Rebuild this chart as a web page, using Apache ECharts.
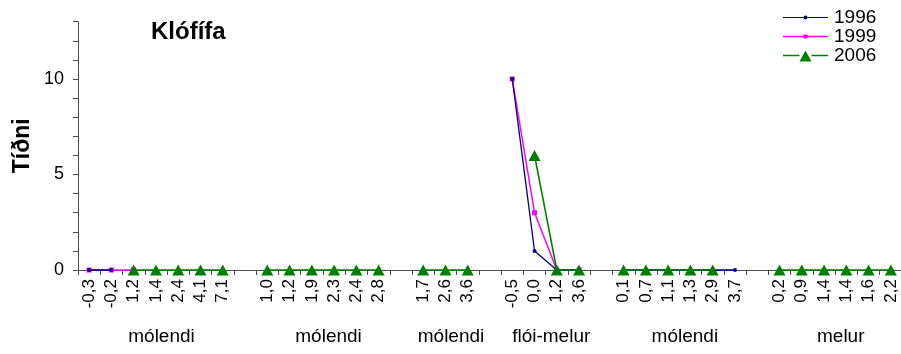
<!DOCTYPE html>
<html>
<head>
<meta charset="utf-8">
<title>Klófífa</title>
<script src="https://cdn.jsdelivr.net/npm/echarts@6/dist/echarts.min.js"></script>
<style>
  html, body { margin: 0; padding: 0; background: #fff; }
  #chart { width: 901px; height: 354px; }
</style>
</head>
<body>
<div id="chart"></div>
<script>
// Habitat groups and the site values shown under each point
const groupNames = ['mólendi', 'mólendi', 'mólendi', 'flói-melur', 'mólendi', 'melur'];
const groupSites = [
  ['-0,3', '-0,2', '1,2', '1,4', '2,4', '4,1', '7,1'],
  ['1,0', '1,2', '1,9', '2,3', '2,4', '2,8'],
  ['1,7', '2,6', '3,6'],
  ['-0,5', '0,0', '1,2', '3,6'],
  ['0,1', '0,7', '1,1', '1,3', '2,9', '3,7'],
  ['0,2', '0,9', '1,4', '1,4', '1,6', '2,2']
];

// Frequency (Tíðni) per survey year, one list per group (null = not surveyed)
const values1996 = [
  [0, 0, null, null, null, null, null],
  [null, null, null, null, null, null],
  [null, null, null],
  [10, 1, 0, 0],
  [0, 0, 0, 0, 0, 0],
  [null, null, null, null, null, null]
];
const values1999 = [
  [0, 0, 0, null, null, null, null],
  [null, null, null, null, null, null],
  [null, null, null],
  [10, 3, 0, 0],
  [null, null, null, null, null, null],
  [null, null, null, null, null, null]
];
const values2006 = [
  [null, null, 0, 0, 0, 0, 0],
  [0, 0, 0, 0, 0, 0],
  [0, 0, 0],
  [null, 6, 0, 0],
  [0, 0, 0, 0, 0, null],
  [0, 0, 0, 0, 0, 0]
];

const yTickLabels = [0, 5, 10];
const yMax = 13;

// Flatten the groups onto one category axis, with an empty slot between groups
const categories = [];
const groupStarts = [];
groupSites.forEach((sites, g) => {
  if (g > 0) categories.push('');
  groupStarts.push(categories.length);
  sites.forEach(s => categories.push(s));
});

function flatten(groups) {
  const out = [];
  groups.forEach((vals, g) => {
    if (g > 0) out.push(null);
    vals.forEach(v => out.push(v));
  });
  return out;
}

// Group captions sit under the middle of their group (value axis spanning all slots)
const labelNudge = 0.25;
const groupLabelAt = new Map();
groupNames.forEach((name, g) => {
  const pos = groupStarts[g] + groupSites[g].length / 2 + labelNudge;
  groupLabelAt.set(pos.toFixed(2), name);
});

const FONT = 'Liberation Sans, Arial, Helvetica, sans-serif';
const AXIS_COLOR = '#4d4d4d';

const legendIcons = {
  '1996': 'path://M0,0M45,14M0,6.4L20.5,6.4L20.5,7.6L0,7.6ZM24.5,6.4L45,6.4L45,7.6L24.5,7.6ZM20.5,7A2,2,0,1,1,24.5,7A2,2,0,1,1,20.5,7Z',
  '1999': 'path://M0,0M45,14M0,6.3L20.5,6.3L20.5,7.7L0,7.7ZM24.5,6.3L45,6.3L45,7.7L24.5,7.7ZM20.5,5L24.5,5L24.5,9L20.5,9Z',
  '2006': 'path://M0,0M45,14M0,6.2L16.5,6.2L16.5,7.8L0,7.8ZM28.5,6.2L45,6.2L45,7.8L28.5,7.8ZM16.5,13L22.5,2L28.5,13Z'
};

const chart = echarts.init(document.getElementById('chart'), null, { renderer: 'canvas' });

chart.setOption({
  animation: false,
  backgroundColor: '#fff',
  textStyle: { fontFamily: FONT, color: '#000' },
  title: {
    text: 'Klófífa',
    left: 151,
    top: 20,
    padding: 0,
    textStyle: { fontFamily: FONT, fontSize: 24, fontWeight: 'bold', color: '#000' }
  },
  legend: {
    orient: 'vertical',
    left: 783,
    top: 8,
    padding: 0,
    itemGap: 0,
    itemWidth: 45,
    itemHeight: 14,
    selectedMode: false,
    textStyle: { fontFamily: FONT, fontSize: 19, color: '#000', padding: [0, 0, 0, 1] },
    data: ['1996', '1999', '2006'].map(name => ({
      name,
      icon: legendIcons[name],
      itemStyle: { borderWidth: 0 }
    }))
  },
  grid: {
    left: 78,
    top: 21.7,
    width: 824,
    height: 248.3,
    containLabel: false,
    outerBoundsMode: 'none'
  },
  xAxis: [
    {
      type: 'category',
      data: categories,
      boundaryGap: true,
      axisLine: { show: true, lineStyle: { color: AXIS_COLOR, width: 1 } },
      axisTick: { show: true, interval: 0, length: 5, lineStyle: { color: AXIS_COLOR } },
      axisLabel: {
        interval: 0,
        rotate: 90,
        margin: 9,
        fontSize: 17,
        color: '#000',
        fontFamily: FONT
      },
      splitLine: { show: false }
    },
    {
      type: 'value',
      position: 'bottom',
      min: 0,
      max: categories.length,
      interval: 0.25,
      axisLine: { show: false },
      axisTick: { show: false },
      splitLine: { show: false },
      axisLabel: {
        margin: 57,
        fontSize: 19,
        color: '#000',
        fontFamily: FONT,
        showMinLabel: true,
        showMaxLabel: true,
        formatter: v => groupLabelAt.get(Number(v).toFixed(2)) || ''
      }
    }
  ],
  yAxis: {
    type: 'value',
    min: 0,
    max: yMax,
    interval: 1,
    name: 'Tíðni',
    nameLocation: 'middle',
    nameRotate: 90,
    nameGap: 44,
    nameMoveOverlap: false,
    nameTextStyle: { fontFamily: FONT, fontSize: 23, fontWeight: 'bold', color: '#000' },
    axisLine: { show: true, lineStyle: { color: AXIS_COLOR, width: 1 } },
    axisTick: { show: true, length: 5, lineStyle: { color: AXIS_COLOR } },
    axisLabel: {
      margin: 14,
      fontSize: 18,
      color: '#000',
      fontFamily: FONT,
      formatter: v => (yTickLabels.includes(v) ? String(v) : '')
    },
    splitLine: { show: false }
  },
  series: [
    {
      name: '1996',
      type: 'line',
      data: flatten(values1996),
      color: '#000080',
      symbol: 'circle',
      symbolSize: 4,
      showAllSymbol: true,
      clip: false,
      z: 3,
      itemStyle: { color: '#000080', borderWidth: 0 },
      lineStyle: { color: '#000080', width: 1.3 }
    },
    {
      name: '1999',
      type: 'line',
      data: flatten(values1999),
      color: '#ff00ff',
      symbol: 'rect',
      symbolSize: 5,
      showAllSymbol: true,
      clip: false,
      z: 2,
      itemStyle: { color: '#ff00ff', borderWidth: 0 },
      lineStyle: { color: '#ff00ff', width: 1.5 }
    },
    {
      name: '2006',
      type: 'line',
      data: flatten(values2006),
      color: '#008000',
      symbol: 'triangle',
      symbolSize: [12, 11],
      showAllSymbol: true,
      clip: false,
      z: 4,
      itemStyle: { color: '#008000', borderWidth: 0 },
      lineStyle: { color: '#008000', width: 1.6 }
    }
  ]
});
</script>
</body>
</html>
